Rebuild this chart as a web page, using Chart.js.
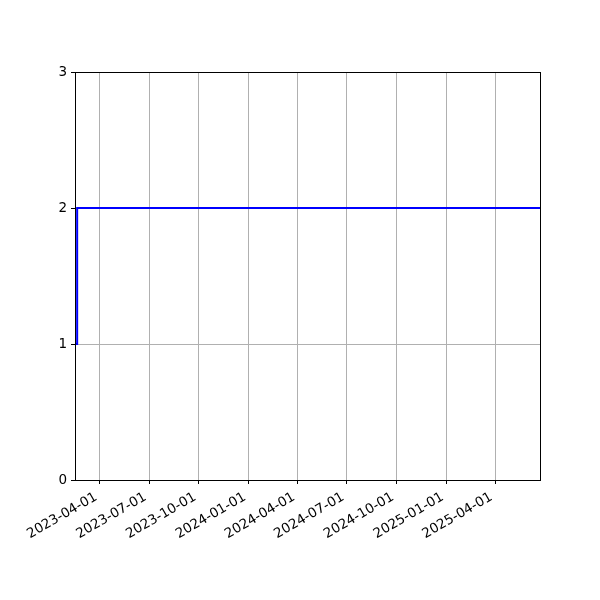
<!DOCTYPE html>
<html>
<head>
<meta charset="utf-8">
<script src="https://cdn.jsdelivr.net/npm/chart.js@4.4.1/dist/chart.umd.min.js"></script>
<style>
html,body{margin:0;padding:0;background:#fff;}
#wrap{width:600px;height:600px;position:relative;}
</style>
</head>
<body>
<div id="wrap"><canvas id="c" width="600" height="600"></canvas></div>
<script>
const dates = ['2023-02-14', '2023-02-18', '2025-06-23'];
const values = [1, 2, 2];
const xTickDates = ['2023-04-01','2023-07-01','2023-10-01','2024-01-01','2024-04-01','2024-07-01','2024-10-01','2025-01-01','2025-04-01'];
const yTicks = [0, 1, 2, 3];
const xMinDate = '2023-02-14';
const xMaxDate = '2025-06-23';

const DAY = 86400000;
function toDay(s){ const p = s.split('-').map(Number); return Date.UTC(p[0], p[1]-1, p[2]) / DAY; }
function fromDay(d){ const dt = new Date(Math.round(d) * DAY); return dt.toISOString().slice(0,10); }

const points = dates.map((d,i)=>({x: toDay(d), y: values[i]}));

const frame = {
  id: 'frame',
  afterDraw(chart){
    const a = chart.chartArea, ctx = chart.ctx;
    ctx.save();
    ctx.strokeStyle = '#000';
    ctx.lineWidth = 1;
    ctx.strokeRect(Math.round(a.left)+0.5, Math.round(a.top)+0.5, Math.round(a.right-a.left), Math.round(a.bottom-a.top));
    ctx.restore();
  }
};

Chart.defaults.font.family = "'DejaVu Sans', sans-serif";
Chart.defaults.font.size = 13.5;
Chart.defaults.color = '#000';

new Chart(document.getElementById('c'), {
  type: 'line',
  data: { datasets: [{ data: points, borderColor: '#0000ff', borderWidth: 2, pointRadius: 0, stepped: 'before', fill: false }] },
  options: {
    responsive: false,
    animation: false,
    devicePixelRatio: 1,
    layout: { padding: { left: 0, top: 72, right: 60, bottom: 0 } },
    plugins: { legend: { display: false }, tooltip: { enabled: false } },
    scales: {
      x: {
        type: 'linear',
        min: toDay(xMinDate),
        max: toDay(xMaxDate),
        afterBuildTicks(s){ s.ticks = xTickDates.map(d=>({value: toDay(d)})); },
        afterFit(s){ s.height = 120; },
        ticks: { callback: v => fromDay(v) + ' ', maxRotation: 30, minRotation: 30, autoSkip: false, padding: 3, color: '#000' },
        grid: { color: '#b0b0b0', lineWidth: 1, tickColor: '#000', tickLength: 4, drawTicks: true },
        border: { color: '#000', width: 1 }
      },
      y: {
        min: 0, max: 3,
        afterBuildTicks(s){ s.ticks = yTicks.map(v=>({value: v})); },
        afterFit(s){ s.width = 75; },
        ticks: { padding: 4, color: '#000' },
        grid: { color: '#b0b0b0', lineWidth: 1, tickColor: '#000', tickLength: 4, drawTicks: true },
        border: { color: '#000', width: 1 }
      }
    }
  },
  plugins: [frame]
});
</script>
</body>
</html>
